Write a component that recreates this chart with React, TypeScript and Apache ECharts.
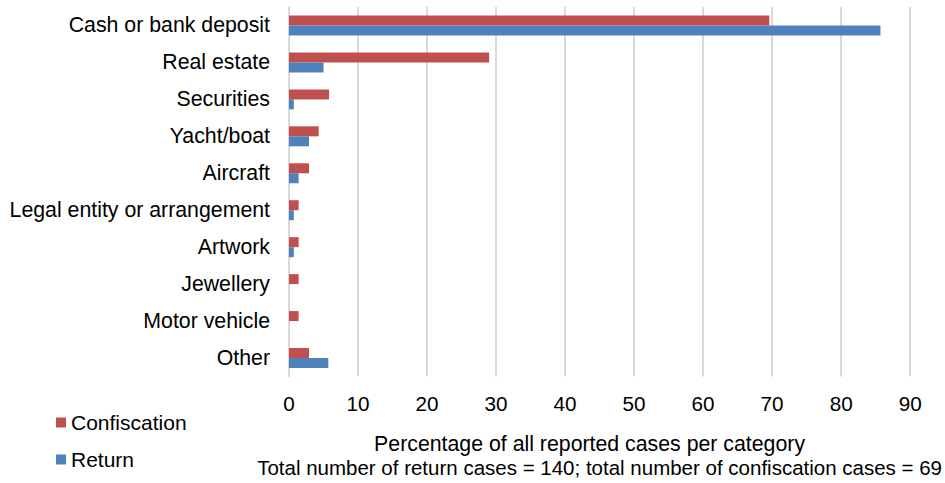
import React, { useEffect, useRef } from "react";
import * as echarts from "echarts";

const categories = [
  "Cash or bank deposit",
  "Real estate",
  "Securities",
  "Yacht/boat",
  "Aircraft",
  "Legal entity or arrangement",
  "Artwork",
  "Jewellery",
  "Motor vehicle",
  "Other",
];
const confiscation = [69.6, 29.0, 5.8, 4.3, 2.9, 1.4, 1.4, 1.4, 1.4, 2.9];
const returnCases = [85.7, 5.0, 0.7, 2.9, 1.4, 0.7, 0.7, 0, 0, 5.7];
const xTicks = { min: 0, max: 90, interval: 10 };
const axisTitle = "Percentage of all reported cases per category";
const axisSubtitle = "Total number of return cases = 140; total number of confiscation cases = 69";

const FONT = "'Liberation Sans', Arial, sans-serif";

export default function App() {
  const ref = useRef<HTMLDivElement>(null);
  useEffect(() => {
    document.body.style.margin = "0";
    if (!ref.current) return;
    const chart = echarts.init(ref.current, null, { renderer: "svg" });
    chart.setOption({
      animation: false,
      textStyle: { fontFamily: FONT },
      grid: { left: 289, right: 34, top: 7, bottom: 102.5, containLabel: false },
      legend: {
        orient: "vertical",
        left: 51,
        top: 407,
        itemWidth: 10,
        itemHeight: 10,
        itemGap: 16,
        icon: "rect",
        data: ["Confiscation", "Return"],
        textStyle: { fontSize: 21, color: "#000", fontFamily: FONT },
      },
      xAxis: {
        type: "value",
        min: xTicks.min,
        max: xTicks.max,
        interval: xTicks.interval,
        axisLine: { show: false },
        axisTick: { show: false },
        splitLine: { show: true, lineStyle: { color: "#d9d9d9", width: 2 } },
        axisLabel: { fontSize: 20.7, color: "#000", margin: 16, fontFamily: FONT },
        name: "{a|" + axisTitle + "}\n{b|" + axisSubtitle + "}",
        nameLocation: "middle",
        nameGap: 55,
        nameTextStyle: {
          color: "#000",
          fontFamily: FONT,
          rich: {
            a: { fontSize: 21.3, lineHeight: 24, color: "#000", fontFamily: FONT, padding: [0, 20, 0, 0] },
            b: { fontSize: 20.5, lineHeight: 24, color: "#000", fontFamily: FONT },
          },
        },
      },
      yAxis: {
        type: "category",
        data: categories,
        inverse: true,
        axisLine: { show: true, lineStyle: { color: "#d9d9d9", width: 2 } },
        axisTick: { show: false },
        axisLabel: { fontSize: 21.3, color: "#000", margin: 19, fontFamily: FONT },
      },
      series: [
        {
          name: "Confiscation",
          type: "bar",
          data: confiscation,
          barWidth: 10,
          barGap: "0%",
          itemStyle: { color: "#C0504D" },
        },
        {
          name: "Return",
          type: "bar",
          data: returnCases,
          barWidth: 10,
          barGap: "0%",
          itemStyle: { color: "#4F81BD" },
        },
      ],
    });
    return () => chart.dispose();
  }, []);
  return <div ref={ref} style={{ width: 945, height: 483 }} />;
}
